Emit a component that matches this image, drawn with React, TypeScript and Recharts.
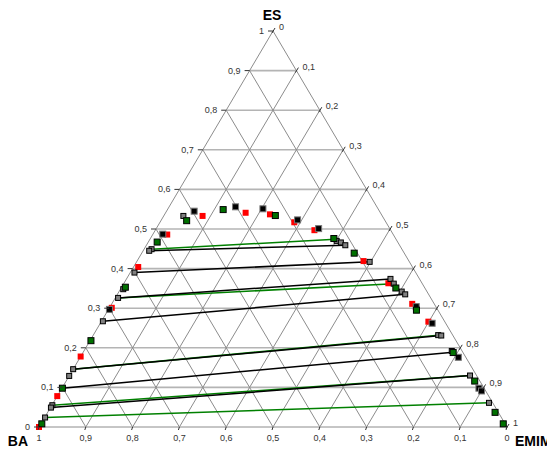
import { ScatterChart, Scatter, XAxis, YAxis, ReferenceLine } from 'recharts';

// Compositions are [ES, EMIM] mass fractions; BA is the remainder.
type Comp = [number, number];

const RED_PTS: Comp[] = [
  [0.533, 0.083], [0.541, 0.171], [0.537, 0.225], [0.517, 0.287], [0.497, 0.34],
  [0.486, 0.031], [0.404, 0.01], [0.419, 0.484], [0.363, 0.565], [0.301, 0.005],
  [0.311, 0.642], [0.266, 0.699], [0.178, 0.0], [0.078, 0.0], [0.0, 0.0],
];

const BLACK_PTS: Comp[] = [
  [0.545, 0.059], [0.556, 0.142], [0.551, 0.203], [0.523, 0.291], [0.501, 0.347],
  [0.487, 0.021], [0.297, 0.002], [0.304, 0.654], [0.262, 0.709], [0.176, 0.808],
  [0.098, 0.891], [0.091, 0.9],
];

const GRAY_PTS: Comp[] = [
  [0.533, 0.042], [0.449, 0.016], [0.445, 0.013], [0.47, 0.401], [0.466, 0.412],
  [0.459, 0.425], [0.39, 0.009], [0.417, 0.498], [0.348, 0.006], [0.326, 0.006],
  [0.374, 0.564], [0.362, 0.577], [0.342, 0.604], [0.335, 0.615], [0.267, 0.003],
  [0.146, 0.0], [0.129, 0.0], [0.232, 0.737], [0.231, 0.744], [0.192, 0.786],
  [0.055, 0.001], [0.049, 0.001], [0.13, 0.856], [0.024, 0.001], [0.061, 0.931],
];

const GREEN_PTS: Comp[] = [
  [0.521, 0.055], [0.549, 0.119], [0.534, 0.238], [0.467, 0.019], [0.476, 0.392],
  [0.439, 0.454], [0.351, 0.587], [0.295, 0.659], [0.188, 0.791], [0.116, 0.873],
  [0.037, 0.956], [0.008, 0.988], [0.353, 0.008], [0.218, 0.002], [0.098, 0.001],
  [0.008, 0.002],
];

// tie lines: BA-rich phase -> EMIM-rich phase
const GREEN_TIES: [Comp, Comp][] = [
  [[0.449, 0.016], [0.474, 0.396]],
  [[0.326, 0.006], [0.362, 0.577]],
  [[0.146, 0.0], [0.232, 0.737]],
  [[0.055, 0.001], [0.13, 0.856]],
  [[0.024, 0.001], [0.061, 0.931]],
];

const BLACK_TIES: [Comp, Comp][] = [
  [[0.445, 0.013], [0.459, 0.425]],
  [[0.39, 0.009], [0.417, 0.498]],
  [[0.326, 0.006], [0.374, 0.564]],
  [[0.267, 0.003], [0.335, 0.615]],
  [[0.146, 0.0], [0.231, 0.744]],
  [[0.098, 0.001], [0.189, 0.79]],
  [[0.049, 0.001], [0.13, 0.856]],
];

const GRID_STEPS = [0.1, 0.2, 0.3, 0.4, 0.5, 0.6, 0.7, 0.8, 0.9];
const AXIS_STEPS = [0, 0.1, 0.2, 0.3, 0.4, 0.5, 0.6, 0.7, 0.8, 0.9, 1];
const FONT = 'Arial, "Liberation Sans", sans-serif';

// ternary -> cartesian (x along base, y = ES height)
const toXY = ([es, em]: Comp) => ({ x: em + es / 2, y: es });
const fmt = (v: number) => (v === 0 || v === 1 ? String(v) : v.toFixed(1).replace('.', ','));

const square = (fill: string, stroke: string | null, size: number) => (props: any) => {
  const { cx, cy } = props;
  if (cx == null || cy == null) return <g />;
  return (
    <rect
      x={cx - size / 2}
      y={cy - size / 2}
      width={size}
      height={size}
      fill={fill}
      stroke={stroke ?? 'none'}
      strokeWidth={stroke ? 1 : 0}
    />
  );
};

const noDot = () => <g />;

const leftAxis = AXIS_STEPS.map(t => ({ ...toXY([t, 0]), label: fmt(t) }));
const rightAxis = AXIS_STEPS.map(t => ({ ...toXY([1 - t, t]), label: fmt(t) }));
const bottomAxis = AXIS_STEPS.map(t => ({ ...toXY([0, 1 - t]), label: fmt(t) }));
const corners = [
  { ...toXY([1, 0]), label: 'ES', pos: 'top' },
  { ...toXY([0, 0]), label: 'BA', pos: 'left' },
  { ...toXY([0, 1]), label: 'EMIM', pos: 'right' },
];

const LeftTick = (props: any) => {
  const { cx, cy, payload } = props;
  return (
    <g>
      <line x1={cx - 5} y1={cy} x2={cx} y2={cy} stroke="#333" strokeWidth={1} />
      <text x={cx - 9} y={cy + 3} textAnchor="end" fontSize={9} fill="#333" fontFamily={FONT}>
        {payload.label}
      </text>
    </g>
  );
};

const RightTick = (props: any) => {
  const { cx, cy, payload } = props;
  return (
    <g>
      <line x1={cx - 1} y1={cy + 2} x2={cx + 2} y2={cy - 3} stroke="#333" strokeWidth={1} />
      <text x={cx + 6} y={cy - 1} textAnchor="start" fontSize={9} fill="#333" fontFamily={FONT}>
        {payload.label}
      </text>
    </g>
  );
};

const BottomTick = (props: any) => {
  const { cx, cy, payload } = props;
  return (
    <g>
      <line x1={cx} y1={cy} x2={cx - 1} y2={cy + 3} stroke="#333" strokeWidth={1} />
      <text x={cx} y={cy + 14} textAnchor="middle" fontSize={9} fill="#333" fontFamily={FONT}>
        {payload.label}
      </text>
    </g>
  );
};

const CornerTitle = (props: any) => {
  const { cx, cy, payload } = props;
  const p = payload.pos;
  const x = p === 'top' ? cx - 1 : p === 'left' ? cx - 11 : cx + 8;
  const y = p === 'top' ? cy - 11 : cy + 19;
  const anchor = p === 'top' ? 'middle' : p === 'left' ? 'end' : 'start';
  return (
    <text x={x} y={y} textAnchor={anchor} fontSize={14} fontWeight="bold" fill="#000" fontFamily={FONT}>
      {payload.label}
    </text>
  );
};

export default function App() {
  return (
    <div style={{ position: 'absolute', left: 0, top: 0, background: '#fff' }}>
      <ScatterChart width={547} height={449} margin={{ top: 31, right: 40, bottom: 22, left: 39 }}>
        <XAxis type="number" dataKey="x" domain={[0, 1]} hide />
        <YAxis type="number" dataKey="y" domain={[0, 1]} hide />

        {/* constant ES */}
        {GRID_STEPS.map(t => (
          <ReferenceLine
            key={`es${t}`}
            segment={[toXY([t, 0]), toXY([t, 1 - t])]}
            stroke="#b4b4b4"
            strokeWidth={1.6}
            ifOverflow="visible"
          />
        ))}
        {/* constant EMIM */}
        {GRID_STEPS.map(t => (
          <ReferenceLine
            key={`em${t}`}
            segment={[toXY([0, t]), toXY([1 - t, t])]}
            stroke="#8c8c8c"
            strokeWidth={1}
            ifOverflow="visible"
          />
        ))}
        {/* constant BA */}
        {GRID_STEPS.map(t => (
          <ReferenceLine
            key={`ba${t}`}
            segment={[toXY([0, 1 - t]), toXY([1 - t, 0])]}
            stroke="#8c8c8c"
            strokeWidth={1}
            ifOverflow="visible"
          />
        ))}
        <ReferenceLine segment={[toXY([0, 0]), toXY([1, 0])]} stroke="#8c8c8c" ifOverflow="visible" />
        <ReferenceLine segment={[toXY([0, 0]), toXY([0, 1])]} stroke="#8c8c8c" ifOverflow="visible" />
        <ReferenceLine segment={[toXY([0, 1]), toXY([1, 0])]} stroke="#8c8c8c" ifOverflow="visible" />

        {GREEN_TIES.map((tie, i) => (
          <Scatter
            key={`gt${i}`}
            data={tie.map(toXY)}
            line={{ stroke: '#008000', strokeWidth: 1.5 }}
            shape={noDot}
            isAnimationActive={false}
          />
        ))}
        {BLACK_TIES.map((tie, i) => (
          <Scatter
            key={`bt${i}`}
            data={tie.map(toXY)}
            line={{ stroke: '#000', strokeWidth: 1.5 }}
            shape={noDot}
            isAnimationActive={false}
          />
        ))}

        <Scatter data={RED_PTS.map(toXY)} shape={square('#ff0000', null, 6)} isAnimationActive={false} />
        <Scatter data={BLACK_PTS.map(toXY)} shape={square('#000', '#777', 6)} isAnimationActive={false} />
        <Scatter data={GRAY_PTS.map(toXY)} shape={square('#808080', '#000', 5)} isAnimationActive={false} />
        <Scatter data={GREEN_PTS.map(toXY)} shape={square('#007000', '#000', 6)} isAnimationActive={false} />

        <Scatter data={leftAxis} shape={LeftTick} isAnimationActive={false} />
        <Scatter data={rightAxis} shape={RightTick} isAnimationActive={false} />
        <Scatter data={bottomAxis} shape={BottomTick} isAnimationActive={false} />
        <Scatter data={corners} shape={CornerTitle} isAnimationActive={false} />
      </ScatterChart>
    </div>
  );
}
